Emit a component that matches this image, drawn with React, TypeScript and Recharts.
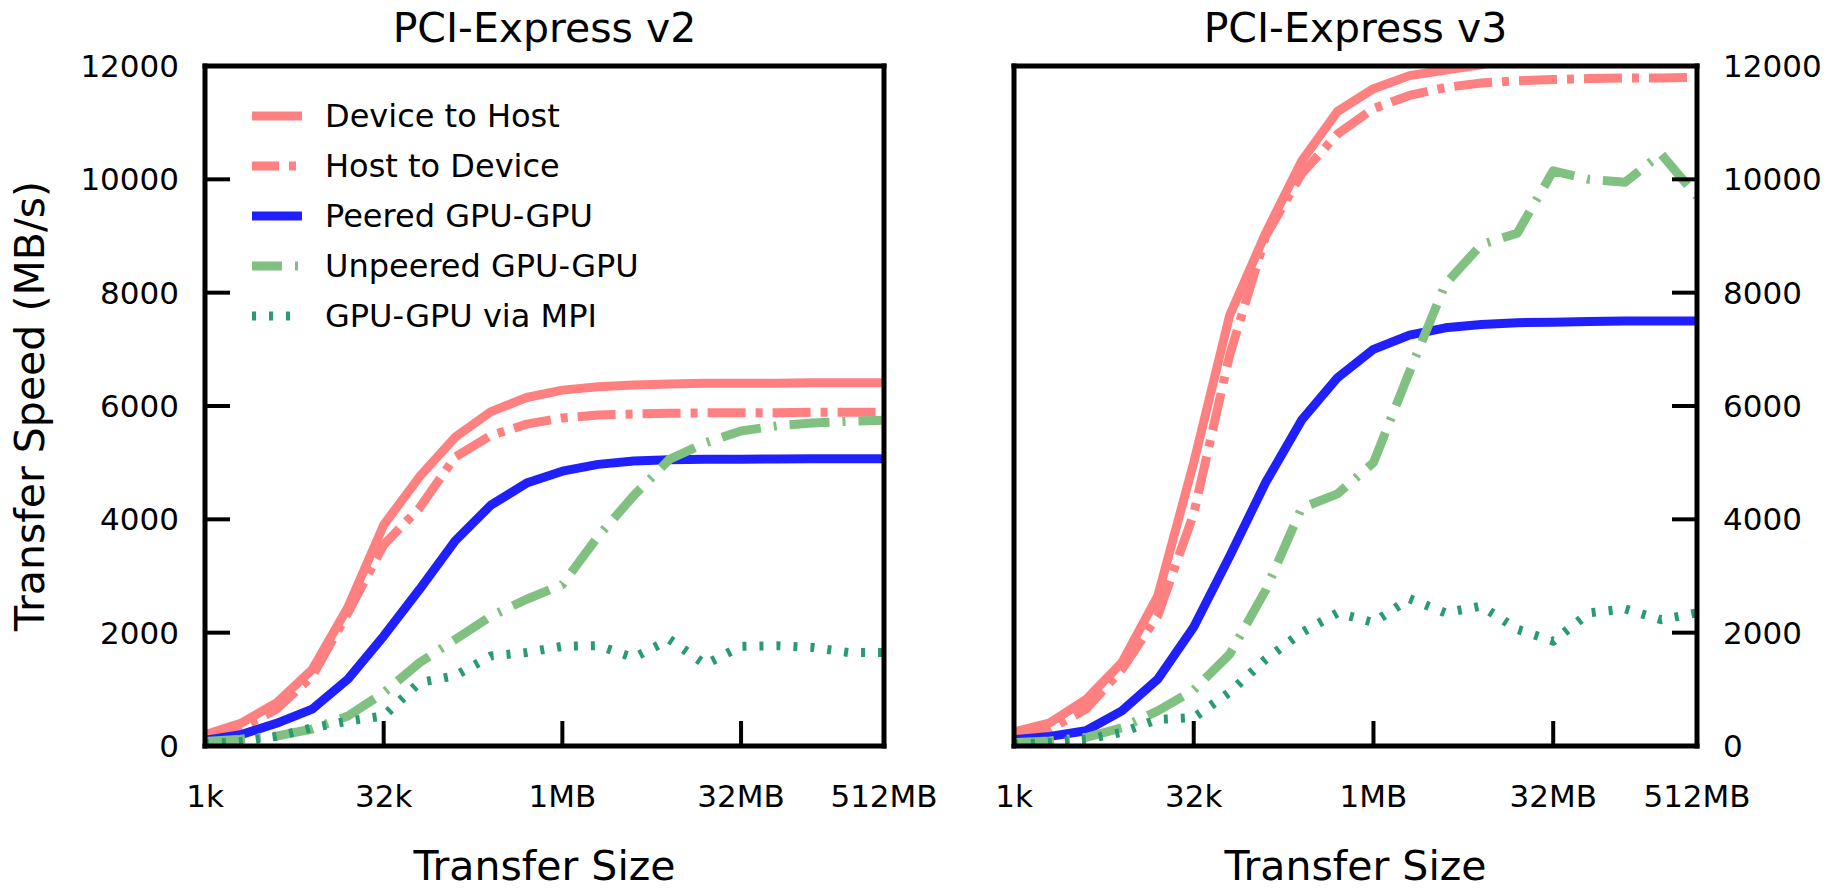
import React from 'react';
import { LineChart, Line, XAxis, YAxis, Legend, Label } from 'recharts';

const FONT = "'DejaVu Sans', sans-serif";

// transfer sizes in bytes, 1k .. 512MB
const sizes = [
  1024, 2048, 4096, 8192, 16384, 32768, 65536, 131072, 262144, 524288,
  1048576, 2097152, 4194304, 8388608, 16777216, 33554432, 67108864,
  134217728, 268435456, 536870912,
];
const sizeTicks = [1024, 32768, 1048576, 33554432, 536870912];
const sizeTickLabels = ['1k', '32k', '1MB', '32MB', '512MB'];
const speedTicks = [0, 2000, 4000, 6000, 8000, 10000, 12000];

// PCI-Express v2 (MB/s)
const v2DeviceToHost = [200, 400, 760, 1350, 2450, 3900, 4750, 5450, 5900, 6150, 6280, 6340, 6370, 6390, 6400, 6400, 6400, 6410, 6410, 6410];
const v2HostToDevice = [150, 320, 650, 1230, 2350, 3550, 4200, 5100, 5480, 5680, 5790, 5840, 5860, 5870, 5880, 5880, 5880, 5890, 5890, 5890];
const v2Peered = [100, 200, 400, 650, 1180, 1940, 2760, 3620, 4250, 4640, 4850, 4970, 5030, 5050, 5060, 5060, 5065, 5070, 5070, 5070];
const v2Unpeered = [80, 120, 175, 300, 530, 940, 1470, 1880, 2290, 2590, 2850, 3700, 4420, 5060, 5350, 5560, 5650, 5700, 5730, 5750];
const v2Mpi = [40, 80, 170, 320, 440, 530, 1120, 1240, 1590, 1650, 1760, 1770, 1560, 1880, 1440, 1760, 1770, 1740, 1650, 1650];

// PCI-Express v3 (MB/s)
const v3DeviceToHost = [250, 410, 820, 1470, 2650, 5000, 7600, 9050, 10320, 11200, 11600, 11830, 11930, 12020, 12200, 12250, 12250, 12250, 12250, 12250];
const v3HostToDevice = [150, 300, 650, 1350, 2300, 4100, 6900, 9000, 10100, 10800, 11250, 11480, 11620, 11700, 11740, 11760, 11780, 11790, 11790, 11800];
const v3Peered = [110, 170, 270, 620, 1180, 2100, 3350, 4650, 5750, 6500, 7000, 7250, 7380, 7440, 7470, 7480, 7490, 7500, 7500, 7500];
const v3Unpeered = [60, 90, 150, 320, 620, 990, 1620, 2750, 4200, 4450, 5000, 6600, 8150, 8850, 9050, 10150, 10000, 9950, 10450, 9700];
const v3Mpi = [30, 60, 120, 240, 470, 500, 950, 1530, 2000, 2350, 2180, 2600, 2350, 2470, 2060, 1850, 2350, 2420, 2230, 2350];

const series = [
  { key: 'd2h', name: 'Device to Host', color: '#ff8080', width: 9, dash: undefined, legendOffset: 0 },
  { key: 'h2d', name: 'Host to Device', color: '#ff8080', width: 9, dash: '38 10 7 10', legendOffset: 11 },
  { key: 'peer', name: 'Peered GPU-GPU', color: '#2020ff', width: 9, dash: undefined, legendOffset: 0 },
  { key: 'unpeer', name: 'Unpeered GPU-GPU', color: '#80c080', width: 9, dash: '40 13 3 13', legendOffset: 10 },
  { key: 'mpi', name: 'GPU-GPU via MPI', color: '#2a9a72', width: 9, dash: '4 13', legendOffset: 0 },
];

const v2Data = sizes.map((size, i) => ({
  size,
  d2h: v2DeviceToHost[i],
  h2d: v2HostToDevice[i],
  peer: v2Peered[i],
  unpeer: v2Unpeered[i],
  mpi: v2Mpi[i],
}));

const v3Data = sizes.map((size, i) => ({
  size,
  d2h: v3DeviceToHost[i],
  h2d: v3HostToDevice[i],
  peer: v3Peered[i],
  unpeer: v3Unpeered[i],
  mpi: v3Mpi[i],
}));

const fmtSize = (v: number) => sizeTickLabels[sizeTicks.indexOf(v)] ?? '';

const border = { stroke: '#000', strokeWidth: 5, strokeLinecap: 'square' as const };
const tickLine = { stroke: '#000', strokeWidth: 4 };
const tickFont = { fontSize: 31, fill: '#000', fontFamily: FONT };

function renderLegend() {
  return (
    <div style={{ fontFamily: FONT, fontSize: 32, color: '#000', lineHeight: 1 }}>
      {series.map((s) => (
        <div key={s.key} style={{ display: 'flex', alignItems: 'center', height: 50 }}>
          <svg width={50} height={14} style={{ marginRight: 23, flex: 'none' }}>
            <line
              x1={0}
              y1={7}
              x2={50}
              y2={7}
              stroke={s.color}
              strokeWidth={s.width}
              strokeDasharray={s.dash}
              strokeDashoffset={s.legendOffset}
            />
          </svg>
          <span style={{ whiteSpace: 'nowrap' }}>{s.name}</span>
        </div>
      ))}
    </div>
  );
}

interface PanelProps {
  data: any[];
  title: string;
  left: number;
  width: number;
  leftAxisWidth: number;
  rightAxisWidth: number;
  marginRight: number;
  labelsOnRight: boolean;
}

function Panel(props: PanelProps) {
  const { data, title, left, width, leftAxisWidth, rightAxisWidth, marginRight, labelsOnRight } = props;
  return (
    <div style={{ position: 'absolute', left, top: 0 }}>
      <LineChart
        width={width}
        height={889}
        data={data}
        margin={{ top: 65, right: marginRight, bottom: 0, left: 0 }}
      >
        <XAxis
          xAxisId="b"
          dataKey="size"
          type="number"
          scale="log"
          domain={[1024, 536870912]}
          allowDataOverflow
          ticks={sizeTicks}
          interval={0}
          tickFormatter={fmtSize}
          height={143}
          tickSize={-25}
          tickMargin={64}
          axisLine={border}
          tickLine={tickLine}
          tick={tickFont}
        >
          <Label value="Transfer Size" position="insideBottom" offset={9} fontSize={41} fill="#000" fontFamily={FONT} />
        </XAxis>
        <XAxis
          xAxisId="t"
          orientation="top"
          dataKey="size"
          type="number"
          scale="log"
          domain={[1024, 536870912]}
          allowDataOverflow
          ticks={sizeTicks}
          interval={0}
          height={1}
          tickSize={-25}
          tick={false}
          axisLine={border}
          tickLine={tickLine}
        >
          <Label value={title} position="top" offset={23} fontSize={41} fill="#000" fontFamily={FONT} />
        </XAxis>
        <YAxis
          yAxisId="l"
          orientation="left"
          width={leftAxisWidth}
          domain={[0, 12000]}
          allowDataOverflow
          ticks={speedTicks}
          interval={0}
          tickSize={-25}
          tickMargin={51}
          axisLine={border}
          tickLine={tickLine}
          tick={labelsOnRight ? false : tickFont}
        >
          {!labelsOnRight && (
            <Label
              content={() => (
                <text
                  x={44}
                  y={406}
                  transform="rotate(-90 44 406)"
                  textAnchor="middle"
                  fontSize={41}
                  fill="#000"
                  fontFamily={FONT}
                >
                  Transfer Speed (MB/s)
                </text>
              )}
            />
          )}
        </YAxis>
        <YAxis
          yAxisId="r"
          orientation="right"
          width={rightAxisWidth}
          domain={[0, 12000]}
          allowDataOverflow
          ticks={speedTicks}
          interval={0}
          tickSize={-25}
          tickMargin={51}
          axisLine={border}
          tickLine={tickLine}
          tick={labelsOnRight ? tickFont : false}
        />
        {!labelsOnRight && (
          <Legend
            layout="vertical"
            align="center"
            verticalAlign="middle"
            content={renderLegend}
            wrapperStyle={{ left: 252, top: 91, width: 'auto' }}
          />
        )}
        {series.map((s) => (
          <Line
            key={s.key}
            xAxisId="b"
            yAxisId="l"
            type="linear"
            dataKey={s.key}
            name={s.name}
            stroke={s.color}
            strokeWidth={s.width}
            strokeDasharray={s.dash}
            strokeLinejoin="round"
            dot={false}
            activeDot={false}
            isAnimationActive={false}
          />
        ))}
      </LineChart>
    </div>
  );
}

export default function App() {
  return (
    <div style={{ position: 'absolute', left: 0, top: 0, width: 1837, height: 889, background: '#fff' }}>
      <Panel
        data={v2Data}
        title="PCI-Express v2"
        left={0}
        width={960}
        leftAxisWidth={205}
        rightAxisWidth={1}
        marginRight={75}
        labelsOnRight={false}
      />
      <Panel
        data={v3Data}
        title="PCI-Express v3"
        left={960}
        width={877}
        leftAxisWidth={54}
        rightAxisWidth={140}
        marginRight={0}
        labelsOnRight={true}
      />
    </div>
  );
}
